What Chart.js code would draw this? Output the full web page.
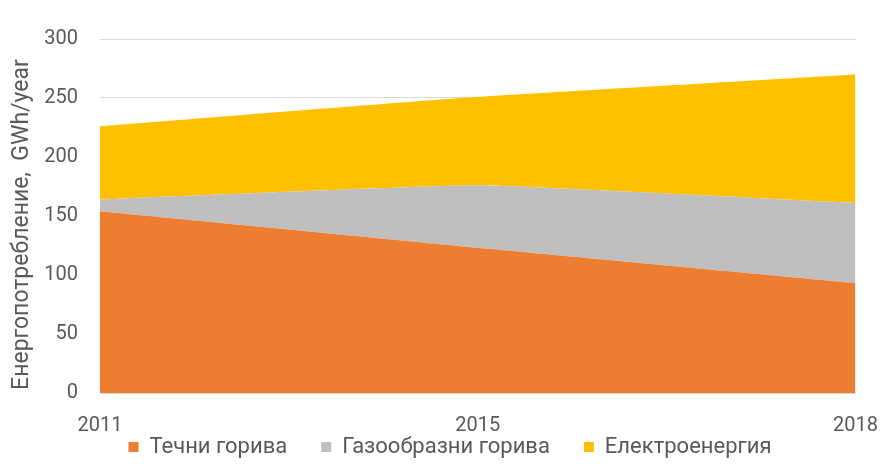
<!DOCTYPE html>
<html><head><meta charset="utf-8">
<script src="https://cdn.jsdelivr.net/npm/chart.js@4/dist/chart.umd.min.js"></script>
<style>html,body{margin:0;padding:0;background:#fff;}canvas{display:block;}</style>
</head><body>
<canvas id="c" width="883" height="475"></canvas>
<script>
const years = ['2011', '2015', '2018'];
const liquidFuels = [154, 123, 93];
const gasFuels = [10, 53, 68];
const electricity = [62, 75, 109];
const seriesNames = ['Течни горива', 'Газообразни горива', 'Електроенергия'];
const yTitle = 'Енергопотребление,  GWh/year   ';

const FONT = "Roboto, 'Noto Sans', sans-serif";
const TXT = '#595959';

const legendPlace = {
  id: 'legendPlace',
  afterLayout(chart) {
    const lg = chart.legend;
    if (!lg) return;
    const dx = 450 - (lg.left + lg.right) / 2;
    lg.left += dx; lg.right += dx;
    lg.top = 402; lg.bottom = chart.height; lg.height = lg.bottom - lg.top;
  }
};

new Chart(document.getElementById('c'), {
  type: 'line',
  data: {
    labels: years,
    datasets: [
      {label: seriesNames[0], data: liquidFuels, backgroundColor: '#ED7D31', borderColor: '#ED7D31', fill: 'origin'},
      {label: seriesNames[1], data: gasFuels, backgroundColor: '#BFBFBF', borderColor: '#BFBFBF', fill: '-1'},
      {label: seriesNames[2], data: electricity, backgroundColor: '#FFC000', borderColor: '#FFC000', fill: '-1'}
    ]
  },
  plugins: [legendPlace],
  options: {
    responsive: false,
    animation: false,
    devicePixelRatio: 1,
    layout: {padding: {top: 39, left: 8, right: 6, bottom: 0}},
    elements: {point: {radius: 0}, line: {borderWidth: 0, tension: 0.1}},
    plugins: {
      tooltip: {enabled: false},
      legend: {
        position: 'bottom',
        maxHeight: 32,
        labels: {boxWidth: 10, boxHeight: 10, padding: 34, color: TXT, font: {family: FONT, size: 22}}
      }
    },
    scales: {
      x: {
        offset: false,
        grid: {display: true, drawOnChartArea: false, drawTicks: true, tickLength: 16, tickColor: 'rgba(0,0,0,0)', color: 'rgba(0,0,0,0)'},
        border: {display: true, color: '#D9D9D9', width: 1},
        ticks: {color: TXT, font: {family: FONT, size: 20}, padding: 5, maxRotation: 0}
      },
      y: {
        stacked: true,
        min: 0, max: 300,
        grid: {color: '#D9D9D9', drawTicks: false},
        border: {display: false},
        ticks: {stepSize: 50, color: TXT, font: {family: FONT, size: 20}, padding: 22},
        title: {display: true, text: yTitle, color: TXT, font: {family: FONT, size: 23}, padding: {top: 0, bottom: 0}},
        afterFit: s => { s.width = 92; }
      }
    }
  }
});
</script>
</body></html>
